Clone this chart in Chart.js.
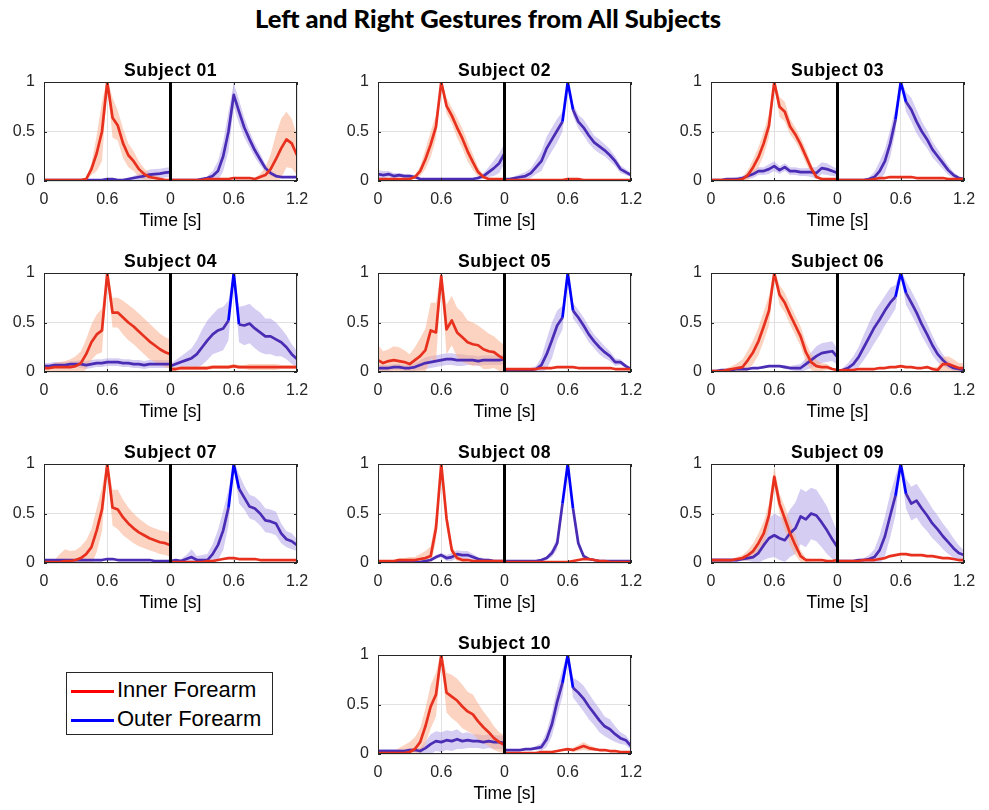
<!DOCTYPE html>
<html>
<head>
<meta charset="utf-8">
<title>Left and Right Gestures from All Subjects</title>
<script src="https://cdn.jsdelivr.net/npm/chart.js@4.4.1/dist/chart.umd.min.js"></script>
<style>
  body { margin: 0; background: #fff; }
  #figure { position: relative; width: 989px; height: 810px; overflow: hidden; background: #fff; }
  #mainTitle { position: absolute; left: 0; top: 3px; width: 976px; text-align: center;
    font: 900 25.5px Lato, "Open Sans", sans-serif; color: #000; }
  .panel { position: absolute; }
  #legend { position: absolute; left: 66px; top: 672px; width: 205px; height: 61px;
    border: 1px solid #262626; background: #fff; font: 22px "Liberation Sans", Arial, sans-serif; color: #000; }
  #legend .swatch { position: absolute; left: 4px; width: 43px; height: 3px; }
  #legend .label { position: absolute; left: 50px; line-height: 26px; white-space: nowrap; }
</style>
</head>
<body>
<div id="figure">
  <div id="mainTitle"></div>
  <div id="legend">
    <div class="swatch" style="top:17px;background:#ff0000"></div>
    <div class="label" id="legInner" style="top:4px"></div>
    <div class="swatch" style="top:46px;background:#0000ff"></div>
    <div class="label" id="legOuter" style="top:33px"></div>
  </div>
</div>
<script>
// time axis of one gesture window, seconds
const timeS = [0, 0.05, 0.1, 0.15, 0.2, 0.25, 0.3, 0.35, 0.4, 0.45, 0.5, 0.55, 0.6,
  0.65, 0.7, 0.75, 0.8, 0.85, 0.9, 0.95, 1.0, 1.05, 1.1, 1.15, 1.2];
const halfSpan = 1.2; // right gesture is drawn after the left one
const xTickValues = [0, 0.6, 1.2, 1.8, 2.4];
const xTickLabels = ["0", "0.6", "0", "0.6", "1.2"];
const yTickValues = [0, 0.5, 1];
const xAxisLabel = "Time [s]";
const figureTitle = "Left and Right Gestures from All Subjects";
const seriesLabels = ["Inner Forearm", "Outer Forearm"];
const subjectTitles = ["Subject 01", "Subject 02", "Subject 03", "Subject 04", "Subject 05",
  "Subject 06", "Subject 07", "Subject 08", "Subject 09", "Subject 10"];

// Subject 01
const s01InL = [0.01,0.01,0.01,0.01,0.01,0.01,0.01,0.01,0.02,0.12,0.28,0.5,1.0,0.64,0.56,0.38,0.26,0.2,0.12,0.07,0.04,0.03,0.02,0.01,0.01];
const s01SdInL = [0.01,0.01,0.01,0.01,0.01,0.01,0.01,0.01,0.01,0.06,0.18,0.3,0.03,0.2,0.15,0.15,0.12,0.1,0.08,0.06,0.04,0.03,0.02,0.01,0.01];
const s01OutL = [0.01,0.01,0.01,0.01,0.01,0.01,0.01,0.01,0.01,0.01,0.01,0.01,0.02,0.02,0.01,0.01,0.02,0.03,0.04,0.05,0.065,0.07,0.075,0.085,0.09];
const s01SdOutL = [0.01,0.01,0.01,0.01,0.01,0.01,0.01,0.01,0.01,0.01,0.01,0.01,0.01,0.01,0.01,0.01,0.01,0.02,0.03,0.04,0.05,0.05,0.05,0.05,0.05];
const s01InR = [0.01,0.01,0.01,0.01,0.01,0.01,0.01,0.02,0.02,0.02,0.02,0.02,0.03,0.03,0.03,0.03,0.02,0.04,0.06,0.12,0.22,0.33,0.42,0.38,0.26];
const s01SdInR = [0.01,0.01,0.01,0.01,0.01,0.01,0.01,0.01,0.01,0.01,0.01,0.01,0.01,0.01,0.01,0.01,0.01,0.03,0.08,0.15,0.25,0.3,0.28,0.25,0.2];
const s01OutR = [0.01,0.01,0.01,0.01,0.01,0.01,0.02,0.03,0.05,0.1,0.25,0.5,0.87,0.7,0.54,0.42,0.31,0.22,0.13,0.08,0.05,0.04,0.04,0.04,0.04];
const s01SdOutR = [0.01,0.01,0.01,0.01,0.01,0.01,0.01,0.02,0.05,0.1,0.15,0.2,0.12,0.12,0.1,0.08,0.07,0.06,0.04,0.03,0.02,0.01,0.01,0.01,0.01];

// Subject 02
const s02InL = [0.02,0.02,0.02,0.02,0.02,0.02,0.02,0.04,0.1,0.22,0.37,0.55,1.0,0.76,0.66,0.54,0.43,0.3,0.19,0.09,0.04,0.02,0.02,0.02,0.02];
const s02SdInL = [0.01,0.01,0.01,0.01,0.01,0.01,0.01,0.02,0.05,0.1,0.13,0.12,0.03,0.08,0.08,0.1,0.1,0.1,0.08,0.05,0.02,0.01,0.01,0.01,0.01];
const s02OutL = [0.07,0.06,0.07,0.05,0.06,0.05,0.05,0.04,0.02,0.02,0.02,0.02,0.02,0.02,0.02,0.02,0.02,0.02,0.02,0.03,0.05,0.09,0.13,0.18,0.28];
const s02SdOutL = [0.04,0.04,0.03,0.03,0.02,0.02,0.02,0.02,0.01,0.01,0.01,0.01,0.01,0.01,0.01,0.01,0.01,0.01,0.01,0.02,0.03,0.05,0.08,0.1,0.1];
const s02InR = [0.01,0.01,0.01,0.01,0.01,0.01,0.01,0.01,0.01,0.01,0.01,0.01,0.02,0.02,0.02,0.01,0.01,0.01,0.01,0.01,0.01,0.01,0.01,0.01,0.01];
const s02OutR = [0.02,0.02,0.03,0.04,0.05,0.08,0.14,0.2,0.33,0.42,0.51,0.6,1.0,0.72,0.6,0.54,0.46,0.39,0.35,0.31,0.26,0.2,0.12,0.09,0.06];
const s02SdOutR = [0.01,0.01,0.02,0.03,0.04,0.05,0.07,0.1,0.12,0.12,0.12,0.1,0.03,0.06,0.07,0.08,0.08,0.07,0.07,0.06,0.06,0.05,0.04,0.03,0.02];

// Subject 03
const s03InL = [0.01,0.01,0.01,0.01,0.01,0.01,0.02,0.06,0.14,0.24,0.38,0.56,1.0,0.75,0.7,0.55,0.47,0.37,0.25,0.13,0.04,0.02,0.02,0.02,0.02];
const s03SdInL = [0.01,0.01,0.01,0.01,0.01,0.01,0.02,0.05,0.08,0.1,0.12,0.12,0.03,0.1,0.1,0.08,0.07,0.07,0.07,0.05,0.02,0.01,0.01,0.01,0.01];
const s03OutL = [0.01,0.01,0.01,0.02,0.02,0.02,0.03,0.05,0.07,0.1,0.1,0.12,0.15,0.11,0.14,0.1,0.1,0.09,0.09,0.09,0.08,0.13,0.12,0.1,0.08];
const s03SdOutL = [0.01,0.01,0.01,0.01,0.01,0.02,0.02,0.03,0.04,0.04,0.04,0.05,0.05,0.04,0.04,0.04,0.04,0.04,0.04,0.05,0.06,0.06,0.06,0.05,0.04];
const s03InR = [0.01,0.01,0.01,0.01,0.01,0.01,0.01,0.02,0.03,0.03,0.04,0.04,0.04,0.04,0.04,0.03,0.03,0.03,0.03,0.03,0.03,0.02,0.02,0.02,0.02];
const s03OutR = [0.01,0.01,0.01,0.01,0.01,0.01,0.02,0.04,0.1,0.2,0.38,0.62,1.0,0.8,0.72,0.6,0.5,0.42,0.32,0.25,0.18,0.11,0.06,0.03,0.02];
const s03SdOutR = [0.01,0.01,0.01,0.01,0.01,0.01,0.02,0.05,0.1,0.12,0.14,0.12,0.03,0.1,0.12,0.12,0.1,0.09,0.08,0.07,0.06,0.05,0.03,0.02,0.01];

// Subject 04
const s04InL = [0.04,0.04,0.05,0.05,0.05,0.05,0.06,0.09,0.18,0.3,0.38,0.42,1.0,0.6,0.6,0.55,0.5,0.46,0.41,0.36,0.31,0.27,0.23,0.2,0.18];
const s04SdInL = [0.03,0.03,0.04,0.05,0.06,0.08,0.1,0.12,0.15,0.18,0.2,0.22,0.05,0.15,0.15,0.17,0.18,0.18,0.18,0.18,0.18,0.17,0.16,0.15,0.15];
const s04OutL = [0.06,0.06,0.07,0.07,0.07,0.08,0.08,0.08,0.07,0.08,0.09,0.09,0.1,0.1,0.1,0.09,0.09,0.08,0.08,0.07,0.08,0.08,0.08,0.08,0.08];
const s04SdOutL = [0.03,0.03,0.03,0.03,0.03,0.03,0.03,0.04,0.04,0.04,0.04,0.04,0.04,0.04,0.04,0.04,0.04,0.04,0.04,0.04,0.04,0.04,0.04,0.04,0.04];
const s04InR = [0.03,0.03,0.04,0.04,0.04,0.04,0.04,0.04,0.05,0.05,0.05,0.05,0.06,0.05,0.05,0.05,0.05,0.05,0.05,0.05,0.05,0.05,0.05,0.05,0.05];
const s04SdInR = [0.02,0.02,0.02,0.02,0.02,0.02,0.02,0.02,0.02,0.02,0.02,0.02,0.02,0.02,0.02,0.03,0.03,0.03,0.03,0.03,0.03,0.02,0.02,0.02,0.02];
const s04OutR = [0.06,0.08,0.1,0.12,0.14,0.18,0.25,0.32,0.38,0.42,0.44,0.52,1.0,0.48,0.47,0.49,0.44,0.4,0.36,0.36,0.33,0.3,0.25,0.18,0.13];
const s04SdOutR = [0.02,0.04,0.06,0.08,0.1,0.14,0.18,0.2,0.2,0.22,0.22,0.2,0.05,0.18,0.2,0.2,0.2,0.2,0.18,0.18,0.17,0.14,0.12,0.1,0.08];

// Subject 05
const s05InL = [0.12,0.09,0.11,0.12,0.11,0.1,0.08,0.12,0.16,0.22,0.42,0.4,0.97,0.43,0.52,0.4,0.35,0.3,0.28,0.27,0.23,0.21,0.2,0.16,0.13];
const s05SdInL = [0.15,0.12,0.12,0.14,0.14,0.12,0.1,0.13,0.18,0.22,0.28,0.3,0.05,0.25,0.25,0.25,0.25,0.22,0.22,0.2,0.2,0.18,0.16,0.15,0.14];
const s05OutL = [0.04,0.04,0.04,0.05,0.05,0.04,0.04,0.05,0.07,0.09,0.1,0.11,0.12,0.13,0.13,0.12,0.12,0.12,0.12,0.11,0.12,0.12,0.12,0.12,0.13];
const s05SdOutL = [0.03,0.03,0.03,0.03,0.03,0.03,0.03,0.04,0.05,0.06,0.06,0.06,0.06,0.06,0.06,0.06,0.06,0.05,0.05,0.05,0.05,0.05,0.05,0.05,0.05];
const s05InR = [0.03,0.03,0.03,0.03,0.03,0.03,0.03,0.04,0.04,0.04,0.05,0.05,0.05,0.05,0.04,0.04,0.04,0.04,0.04,0.04,0.04,0.03,0.03,0.03,0.03];
const s05OutR = [0.01,0.01,0.01,0.01,0.02,0.02,0.03,0.07,0.18,0.32,0.47,0.55,1.0,0.62,0.55,0.47,0.38,0.31,0.25,0.2,0.16,0.1,0.1,0.06,0.03];
const s05SdOutR = [0.01,0.01,0.01,0.01,0.01,0.02,0.03,0.08,0.15,0.18,0.15,0.12,0.03,0.08,0.08,0.08,0.08,0.07,0.07,0.06,0.05,0.04,0.03,0.02,0.01];

// Subject 06
const s06InL = [0.01,0.01,0.01,0.02,0.03,0.04,0.05,0.12,0.2,0.31,0.46,0.62,1.0,0.78,0.7,0.58,0.47,0.36,0.2,0.1,0.06,0.05,0.05,0.03,0.02];
const s06SdInL = [0.01,0.01,0.01,0.02,0.03,0.05,0.08,0.1,0.12,0.14,0.15,0.15,0.03,0.1,0.1,0.1,0.1,0.1,0.1,0.08,0.06,0.04,0.03,0.01,0.01];
const s06OutL = [0.01,0.01,0.02,0.02,0.02,0.03,0.03,0.03,0.04,0.04,0.05,0.06,0.06,0.06,0.05,0.04,0.04,0.04,0.08,0.12,0.16,0.19,0.2,0.21,0.15];
const s06SdOutL = [0.01,0.01,0.01,0.01,0.01,0.01,0.01,0.01,0.01,0.01,0.01,0.01,0.01,0.01,0.02,0.02,0.03,0.04,0.06,0.08,0.1,0.1,0.1,0.1,0.08];
const s06InR = [0.01,0.02,0.02,0.02,0.03,0.03,0.03,0.03,0.04,0.04,0.05,0.05,0.06,0.05,0.05,0.04,0.04,0.05,0.03,0.02,0.08,0.08,0.06,0.04,0.04];
const s06SdInR = [0.01,0.01,0.01,0.01,0.01,0.01,0.01,0.01,0.01,0.01,0.01,0.01,0.01,0.01,0.01,0.01,0.01,0.01,0.02,0.03,0.07,0.08,0.07,0.05,0.05];
const s06OutR = [0.01,0.02,0.04,0.08,0.15,0.25,0.35,0.45,0.53,0.62,0.7,0.76,1.0,0.8,0.7,0.6,0.48,0.38,0.27,0.18,0.12,0.07,0.04,0.03,0.02];
const s06SdOutR = [0.01,0.02,0.05,0.08,0.1,0.13,0.15,0.16,0.16,0.15,0.15,0.12,0.03,0.12,0.12,0.12,0.12,0.11,0.1,0.08,0.06,0.04,0.03,0.02,0.01];

// Subject 07
const s07InL = [0.01,0.01,0.01,0.01,0.02,0.02,0.03,0.05,0.09,0.16,0.33,0.54,1.0,0.56,0.54,0.46,0.4,0.35,0.31,0.28,0.25,0.23,0.21,0.2,0.18];
const s07SdInL = [0.01,0.01,0.02,0.08,0.12,0.1,0.1,0.12,0.14,0.18,0.22,0.22,0.04,0.18,0.2,0.18,0.16,0.15,0.14,0.13,0.12,0.12,0.12,0.12,0.12];
const s07OutL = [0.03,0.03,0.03,0.03,0.03,0.03,0.03,0.03,0.03,0.03,0.03,0.03,0.04,0.04,0.03,0.03,0.03,0.03,0.03,0.03,0.03,0.02,0.02,0.02,0.02];
const s07InR = [0.01,0.01,0.01,0.01,0.01,0.01,0.01,0.02,0.02,0.03,0.04,0.05,0.05,0.04,0.04,0.04,0.04,0.03,0.03,0.03,0.03,0.03,0.03,0.03,0.03];
const s07OutR = [0.02,0.03,0.02,0.04,0.06,0.03,0.03,0.03,0.09,0.18,0.33,0.56,1.0,0.75,0.66,0.57,0.55,0.5,0.43,0.42,0.4,0.3,0.24,0.22,0.18];
const s07SdOutR = [0.01,0.01,0.02,0.04,0.08,0.04,0.05,0.06,0.1,0.15,0.2,0.18,0.03,0.15,0.12,0.12,0.12,0.12,0.12,0.12,0.12,0.1,0.08,0.08,0.06];

// Subject 08
const s08InL = [0.02,0.02,0.02,0.02,0.03,0.03,0.03,0.03,0.04,0.05,0.07,0.35,1.0,0.45,0.13,0.05,0.03,0.03,0.02,0.02,0.02,0.02,0.02,0.02,0.02];
const s08SdInL = [0.01,0.01,0.01,0.01,0.02,0.02,0.03,0.03,0.05,0.07,0.1,0.12,0.03,0.08,0.05,0.03,0.02,0.01,0.01,0.01,0.01,0.01,0.01,0.01,0.01];
const s08OutL = [0.01,0.01,0.01,0.01,0.01,0.01,0.01,0.01,0.01,0.02,0.03,0.06,0.08,0.05,0.06,0.09,0.08,0.08,0.06,0.04,0.03,0.03,0.02,0.02,0.02];
const s08SdOutL = [0.01,0.01,0.01,0.01,0.01,0.01,0.01,0.01,0.01,0.01,0.01,0.02,0.02,0.03,0.04,0.04,0.04,0.04,0.03,0.02,0.02,0.01,0.01,0.01,0.01];
const s08InR = [0.01,0.01,0.01,0.01,0.01,0.01,0.01,0.01,0.01,0.01,0.01,0.01,0.01,0.02,0.03,0.04,0.04,0.03,0.02,0.02,0.01,0.01,0.01,0.01,0.01];
const s08OutR = [0.02,0.02,0.02,0.02,0.02,0.02,0.02,0.03,0.05,0.1,0.2,0.6,1.0,0.55,0.2,0.07,0.04,0.03,0.02,0.02,0.02,0.02,0.02,0.02,0.02];
const s08SdOutR = [0.01,0.01,0.01,0.01,0.01,0.01,0.01,0.01,0.02,0.04,0.06,0.08,0.02,0.06,0.04,0.02,0.01,0.01,0.01,0.01,0.01,0.01,0.01,0.01,0.01];

// Subject 09
const s09InL = [0.03,0.03,0.03,0.03,0.03,0.04,0.05,0.08,0.12,0.2,0.3,0.48,0.87,0.6,0.45,0.3,0.18,0.07,0.03,0.03,0.03,0.03,0.02,0.02,0.03];
const s09SdInL = [0.01,0.01,0.01,0.01,0.01,0.02,0.03,0.05,0.08,0.1,0.12,0.12,0.1,0.1,0.12,0.12,0.1,0.06,0.02,0.01,0.01,0.01,0.01,0.01,0.01];
const s09OutL = [0.03,0.03,0.03,0.03,0.03,0.03,0.04,0.05,0.06,0.1,0.18,0.25,0.28,0.25,0.23,0.3,0.35,0.47,0.44,0.5,0.48,0.41,0.33,0.24,0.16];
const s09SdOutL = [0.02,0.02,0.02,0.02,0.02,0.02,0.02,0.03,0.05,0.1,0.15,0.2,0.22,0.22,0.22,0.24,0.26,0.28,0.28,0.26,0.26,0.25,0.24,0.2,0.15];
const s09InR = [0.02,0.02,0.02,0.02,0.02,0.03,0.03,0.03,0.04,0.05,0.07,0.08,0.09,0.09,0.08,0.08,0.08,0.07,0.07,0.06,0.05,0.05,0.04,0.03,0.03];
const s09OutR = [0.02,0.02,0.02,0.02,0.03,0.03,0.04,0.06,0.13,0.27,0.48,0.68,1.0,0.7,0.6,0.63,0.55,0.48,0.4,0.34,0.27,0.21,0.15,0.1,0.08];
const s09SdOutR = [0.01,0.01,0.01,0.01,0.01,0.02,0.04,0.08,0.15,0.2,0.22,0.2,0.04,0.15,0.17,0.17,0.17,0.16,0.15,0.14,0.13,0.12,0.1,0.08,0.05];

// Subject 10
const s10InL = [0.01,0.01,0.01,0.01,0.01,0.01,0.02,0.05,0.12,0.28,0.48,0.6,1.0,0.62,0.58,0.54,0.48,0.43,0.4,0.33,0.27,0.22,0.16,0.12,0.09];
const s10SdInL = [0.01,0.01,0.01,0.02,0.05,0.08,0.1,0.12,0.14,0.18,0.22,0.22,0.04,0.2,0.22,0.22,0.22,0.2,0.2,0.18,0.16,0.14,0.12,0.1,0.1];
const s10OutL = [0.03,0.03,0.03,0.03,0.03,0.03,0.04,0.04,0.03,0.06,0.1,0.13,0.12,0.14,0.13,0.15,0.13,0.14,0.13,0.13,0.12,0.13,0.12,0.12,0.11];
const s10SdOutL = [0.02,0.02,0.02,0.02,0.02,0.02,0.02,0.02,0.03,0.06,0.1,0.1,0.1,0.1,0.1,0.1,0.08,0.08,0.07,0.07,0.07,0.07,0.07,0.07,0.07];
const s10InR = [0.01,0.01,0.01,0.01,0.01,0.01,0.01,0.02,0.02,0.02,0.03,0.04,0.05,0.04,0.06,0.08,0.06,0.05,0.04,0.04,0.03,0.03,0.02,0.02,0.02];
const s10SdInR = [0.01,0.01,0.01,0.01,0.01,0.01,0.01,0.01,0.01,0.01,0.01,0.01,0.01,0.02,0.03,0.04,0.03,0.02,0.01,0.01,0.01,0.01,0.01,0.01,0.01];
const s10OutR = [0.04,0.04,0.04,0.04,0.05,0.05,0.06,0.07,0.15,0.3,0.53,0.72,1.0,0.67,0.62,0.56,0.48,0.41,0.34,0.28,0.25,0.2,0.16,0.14,0.08];
const s10SdOutR = [0.01,0.01,0.01,0.01,0.01,0.01,0.02,0.04,0.08,0.12,0.14,0.14,0.03,0.1,0.12,0.13,0.13,0.12,0.12,0.1,0.1,0.08,0.06,0.05,0.04];

// order in each row: inner left, outer left, inner right, outer right
const subjectMeans = [
  [s01InL, s01OutL, s01InR, s01OutR],
  [s02InL, s02OutL, s02InR, s02OutR],
  [s03InL, s03OutL, s03InR, s03OutR],
  [s04InL, s04OutL, s04InR, s04OutR],
  [s05InL, s05OutL, s05InR, s05OutR],
  [s06InL, s06OutL, s06InR, s06OutR],
  [s07InL, s07OutL, s07InR, s07OutR],
  [s08InL, s08OutL, s08InR, s08OutR],
  [s09InL, s09OutL, s09InR, s09OutR],
  [s10InL, s10OutL, s10InR, s10OutR]
];
const subjectSpreads = [
  [s01SdInL, s01SdOutL, s01SdInR, s01SdOutR],
  [s02SdInL, s02SdOutL, null, s02SdOutR],
  [s03SdInL, s03SdOutL, null, s03SdOutR],
  [s04SdInL, s04SdOutL, s04SdInR, s04SdOutR],
  [s05SdInL, s05SdOutL, null, s05SdOutR],
  [s06SdInL, s06SdOutL, s06SdInR, s06SdOutR],
  [s07SdInL, null, null, s07SdOutR],
  [s08SdInL, s08SdOutL, null, s08SdOutR],
  [s09SdInL, s09SdOutL, null, s09SdOutR],
  [s10SdInL, s10SdOutL, s10SdInR, s10SdOutR]
];

// layout of the axes boxes in the figure
const colLeft = [44, 378, 711];
const rowTop = [82, 273, 464, 655];
const panelCell = [[0,0],[1,0],[2,0],[0,1],[1,1],[2,1],[0,2],[1,2],[2,2],[1,3]];
const axW = 253, axH = 99;
const padL = 48, padT = 32, padR = 22, padB = 52;

const redLine = "#e8301e", redBand = "rgba(250,175,140,0.55)";
const bluePure = "#0000ff", blueLine = "#4a2db4", blueBand = "rgba(165,145,228,0.45)";
const gridColor = "#e1e1e1", axisColor = "#262626";
const fontFamily = '"Liberation Sans", Arial, sans-serif';

const matlabAxes = {
  id: "matlabAxes",
  afterDatasetsDraw: function (chart, args, opts) {
    const ctx = chart.ctx;
    const a = chart.chartArea;
    const xs = chart.scales.x;
    const ys = chart.scales.y;
    ctx.save();
    ctx.strokeStyle = axisColor;
    ctx.lineWidth = 1;
    ctx.beginPath();
    xTickValues.forEach(function (v) {
      const px = Math.round(xs.getPixelForValue(v)) + 0.5;
      ctx.moveTo(px, a.bottom); ctx.lineTo(px, a.bottom - 3);
      ctx.moveTo(px, a.top); ctx.lineTo(px, a.top + 3);
    });
    yTickValues.forEach(function (v) {
      const py = Math.round(ys.getPixelForValue(v)) + 0.5;
      ctx.moveTo(a.left, py); ctx.lineTo(a.left + 3, py);
      ctx.moveTo(a.right, py); ctx.lineTo(a.right - 3, py);
    });
    ctx.stroke();
    ctx.strokeRect(a.left + 0.5, a.top + 0.5, a.right - a.left - 1, a.bottom - a.top - 1);
    // divider between the left and right gesture
    ctx.strokeStyle = "#000";
    ctx.lineWidth = 3;
    const mx = xs.getPixelForValue(halfSpan);
    ctx.beginPath();
    ctx.moveTo(mx, a.top); ctx.lineTo(mx, a.bottom);
    ctx.stroke();
    ctx.fillStyle = "#000";
    ctx.textAlign = "center";
    ctx.textBaseline = "alphabetic";
    const cx = (a.left + a.right) / 2;
    ctx.font = "bold 17.6px " + fontFamily;
    ctx.letterSpacing = "0.5px";
    ctx.fillText(opts.title, cx, a.top - 6);
    ctx.letterSpacing = "0px";
    ctx.font = "17.6px " + fontFamily;
    ctx.fillText(xAxisLabel, cx, a.bottom + 45);
    ctx.restore();
  }
};

function buildDatasets(means, spreads) {
  const sets = [];
  means.forEach(function (mean, k) {
    const shift = k < 2 ? 0 : halfSpan;
    const inner = k % 2 === 0;
    const sd = spreads[k];
    if (sd) {
      sets.push({
        data: timeS.map(function (t, i) { return { x: t + shift, y: mean[i] + sd[i] }; }),
        fill: "+1", backgroundColor: inner ? redBand : blueBand,
        borderColor: "rgba(0,0,0,0)", borderWidth: 0, pointRadius: 0, order: 1, clip: 0
      });
      sets.push({
        data: timeS.map(function (t, i) { return { x: t + shift, y: mean[i] - sd[i] }; }),
        fill: false, borderColor: "rgba(0,0,0,0)", borderWidth: 0, pointRadius: 0, order: 1, clip: 0
      });
    }
    const line = {
      data: timeS.map(function (t, i) { return { x: t + shift, y: mean[i] }; }),
      fill: false, borderColor: inner ? redLine : blueLine, borderWidth: 2.7,
      pointRadius: 0, order: 0, borderJoinStyle: "round"
    };
    if (!inner) {
      // the normalised peak of the outer trace shows as plain blue
      line.segment = {
        borderColor: function (c) {
          return (c.p0.parsed.y >= 0.95 || c.p1.parsed.y >= 0.95) ? bluePure : undefined;
        }
      };
    }
    sets.push(line);
  });
  return sets;
}

function makePanel(idx) {
  const cell = panelCell[idx];
  const canvas = document.createElement("canvas");
  canvas.className = "panel";
  canvas.width = padL + axW + padR;
  canvas.height = padT + axH + padB;
  canvas.style.left = (colLeft[cell[0]] - padL) + "px";
  canvas.style.top = (rowTop[cell[1]] - padT) + "px";
  document.getElementById("figure").appendChild(canvas);

  const tickFont = { family: fontFamily, size: 16 };
  new Chart(canvas.getContext("2d"), {
    type: "line",
    data: { datasets: buildDatasets(subjectMeans[idx], subjectSpreads[idx]) },
    plugins: [matlabAxes],
    options: {
      responsive: false,
      animation: false,
      events: [],
      layout: { padding: { top: padT, right: padR, bottom: 0, left: 0 } },
      plugins: {
        legend: { display: false },
        tooltip: { enabled: false },
        matlabAxes: { title: subjectTitles[idx] }
      },
      scales: {
        x: {
          type: "linear", min: 0, max: 2 * halfSpan,
          afterBuildTicks: function (s) { s.ticks = xTickValues.map(function (v) { return { value: v }; }); },
          afterFit: function (s) { s.height = padB; },
          grid: { color: gridColor, drawTicks: false },
          border: { display: false },
          ticks: {
            font: tickFont, color: axisColor, padding: 9, maxRotation: 0, autoSkip: false,
            callback: function (v, i) { return xTickLabels[i]; }
          }
        },
        y: {
          type: "linear", min: 0, max: 1,
          afterBuildTicks: function (s) { s.ticks = yTickValues.map(function (v) { return { value: v }; }); },
          afterFit: function (s) { s.width = padL; },
          grid: { color: gridColor, drawTicks: false },
          border: { display: false },
          ticks: {
            font: tickFont, color: axisColor, padding: 9,
            callback: function (v) { return String(v); }
          }
        }
      }
    }
  });
}

document.getElementById("mainTitle").textContent = figureTitle;
document.getElementById("legInner").textContent = seriesLabels[0];
document.getElementById("legOuter").textContent = seriesLabels[1];
for (let i = 0; i < subjectTitles.length; i++) {
  makePanel(i);
}
</script>
</body>
</html>
